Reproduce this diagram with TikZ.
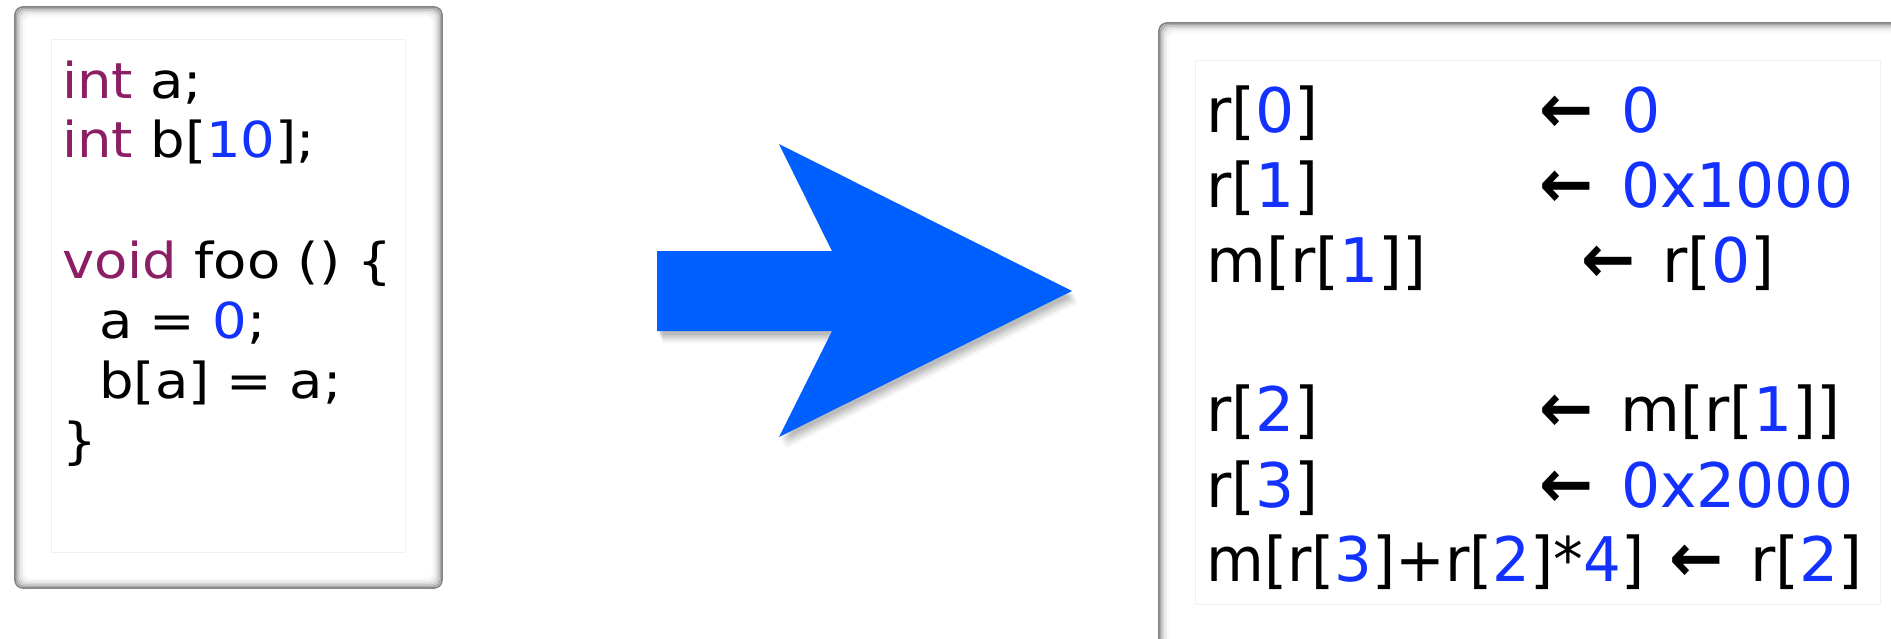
\documentclass[tikz,border=0pt]{standalone}
\usepackage{fontspec}
\setmainfont{DejaVu Sans}
\newfontfamily\arrowfont{DejaVu Sans Bold}
\definecolor{kw}{RGB}{140,30,100}
\definecolor{num}{RGB}{20,50,255}
\definecolor{arrowblue}{RGB}{0,96,255}
\definecolor{inbox}{RGB}{240,240,240}
\newcommand\kw[1]{\textcolor{kw}{#1}}
\newcommand\nm[1]{\textcolor{num}{#1}}
\newcommand\lx[1]{\scalebox{1.1}[1]{#1}}
\newcommand\larr{{\arrowfont\scalebox{1.05}[1.1]{←}}}
\newcommand\softframe[4]{%
  \fill[white,rounded corners=8pt] (#1,#2) rectangle (#3,#4);
  \foreach \i/\c in {0/48,1.5/34,3/23,4.5/15,6/9,7.5/5,9/2}{%
    \draw[black!\c,line width=1.7pt,rounded corners=8pt]
      ({#1+\i},{#2+\i}) rectangle ({#3-\i},{#4-\i});}%
}
\tikzset{
  codeL/.style={anchor=base west,inner sep=0pt,font=\fontsize{49.5pt}{60pt}\selectfont},
  codeR/.style={anchor=base west,inner sep=0pt,font=\fontsize{61.5pt}{75pt}\selectfont},
  innerbox/.style={draw=inbox,line width=1pt,fill=white}
}
\begin{document}
\begin{tikzpicture}[x=1pt,y=-1pt]
\useasboundingbox (0,0) rectangle (1891,638);
\clip (0,0) rectangle (1891,638);
% left frame
\softframe{15}{7}{442}{588}
\draw[innerbox] (51,39) rectangle (405,552);
\node[codeL] (l1) at (62,98)  {\lx{\kw{int} a;}};
\node[codeL] (l2) at (62,157) {\lx{\kw{int} b[\nm{10}];}};
\node[codeL] (l3) at (62,278) {\lx{\kw{void} foo () \{}};
\node[codeL] (l4) at (99,338) {\lx{a = \nm{0};}};
\node[codeL] (l5) at (99,398) {\lx{b[a] = a;}};
\node[codeL] (l6) at (62,458) {\lx{\}}};
% block arrow with soft shadow
\foreach \dx/\dy/\o in {6/12/0.04,5/10/0.05,4/8/0.06,3/6/0.07,2/4/0.08}{%
  \fill[black,opacity=\o,shift={(\dx,\dy)}]
    (657,251) -- (832,251) -- (779,144) -- (1072,291) -- (779,437) -- (832,331) -- (657,331) -- cycle;}
\fill[arrowblue] (657,251) -- (832,251) -- (779,144) -- (1072,291) -- (779,437) -- (832,331) -- (657,331) -- cycle;
% right frame
\softframe{1159}{23}{1905}{652}
\draw[innerbox] (1195,60) rectangle (1880,604);
\node[codeR] (r1) at (1206,132) {r[\nm{0}]};
\node[codeR] (r2) at (1206,207) {r[\nm{1}]};
\node[codeR] (r3) at (1206,282) {m[r[\nm{1}]]};
\node[codeR] (r4) at (1206,431) {r[\nm{2}]};
\node[codeR] (r5) at (1206,507) {r[\nm{3}]};
\node[codeR] (r6) at (1206,581) {\scalebox{0.965}[1]{m[r[\nm{3}]+r[\nm{2}]*\nm{4}]}};
\node[codeR] (a1) at (1539,132) {\larr};
\node[codeR] (a2) at (1539,207) {\larr};
\node[codeR] (a3) at (1581,282) {\larr};
\node[codeR] (a4) at (1539,431) {\larr};
\node[codeR] (a5) at (1539,507) {\larr};
\node[codeR] (a6) at (1669,581) {\larr};
\node[codeR] (v1) at (1621,132) {\nm{0}};
\node[codeR] (v2) at (1621,207) {\nm{0x1000}};
\node[codeR] (v3) at (1662,282) {r[\nm{0}]};
\node[codeR] (v4) at (1620,431) {m[r[\nm{1}]]};
\node[codeR] (v5) at (1621,507) {\nm{0x2000}};
\node[codeR] (v6) at (1750,581) {r[\nm{2}]};
\end{tikzpicture}
\end{document}
